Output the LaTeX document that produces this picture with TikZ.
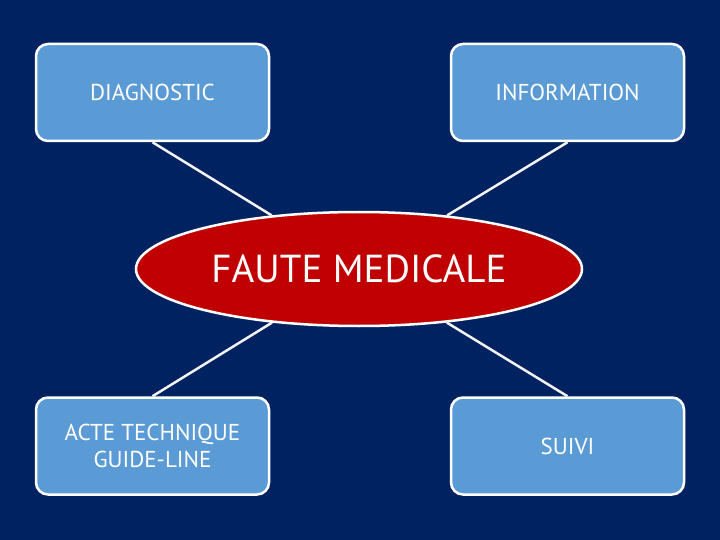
\documentclass[tikz,border=0pt]{standalone}
\usepackage{fontspec}
\setmainfont{PT Sans}
\usetikzlibrary{shapes.geometric}
\definecolor{fond}{HTML}{002260}
\definecolor{bleu}{HTML}{5B9BD5}
\definecolor{rouge}{HTML}{C00000}
\begin{document}
\begin{tikzpicture}[x=1pt, y=-1pt,
	kotak/.style={rectangle, rounded corners=12pt, draw=white, line width=2.5pt, fill=bleu, minimum width=233pt, minimum height=97pt, text=white, align=center, font=\fontsize{23}{27}\selectfont},
	garis/.style={draw=white!90!gray, line width=2.5pt}]
	% latar belakang
	\fill[fond] (0,0) rectangle (720,540);
	\useasboundingbox (0,0) rectangle (720,540);
	
	% simpul
	\node[ellipse, draw=white, line width=2.5pt, fill=rouge, minimum width=446pt, minimum height=114pt, inner sep=0pt, text=white, font=\fontsize{39}{44}\selectfont] (faute) at (359,269) {FAUTE MEDICALE};
	\node[kotak] (diag) at (152.5,92.5) {DIAGNOSTIC};
	\node[kotak] (info) at (567.5,92.5) {INFORMATION};
	\node[kotak] (acte) at (152.5,446) {ACTE TECHNIQUE\\GUIDE-LINE};
	\node[kotak] (suivi) at (567.5,446) {SUIVI};
	
	% garis ke elips
	\draw[garis] (diag.south) -- (faute);
	\draw[garis] (info.south) -- (faute);
	\draw[garis] (acte.north) -- (faute);
	\draw[garis] (suivi.north) -- (faute);
\end{tikzpicture}
\end{document}
